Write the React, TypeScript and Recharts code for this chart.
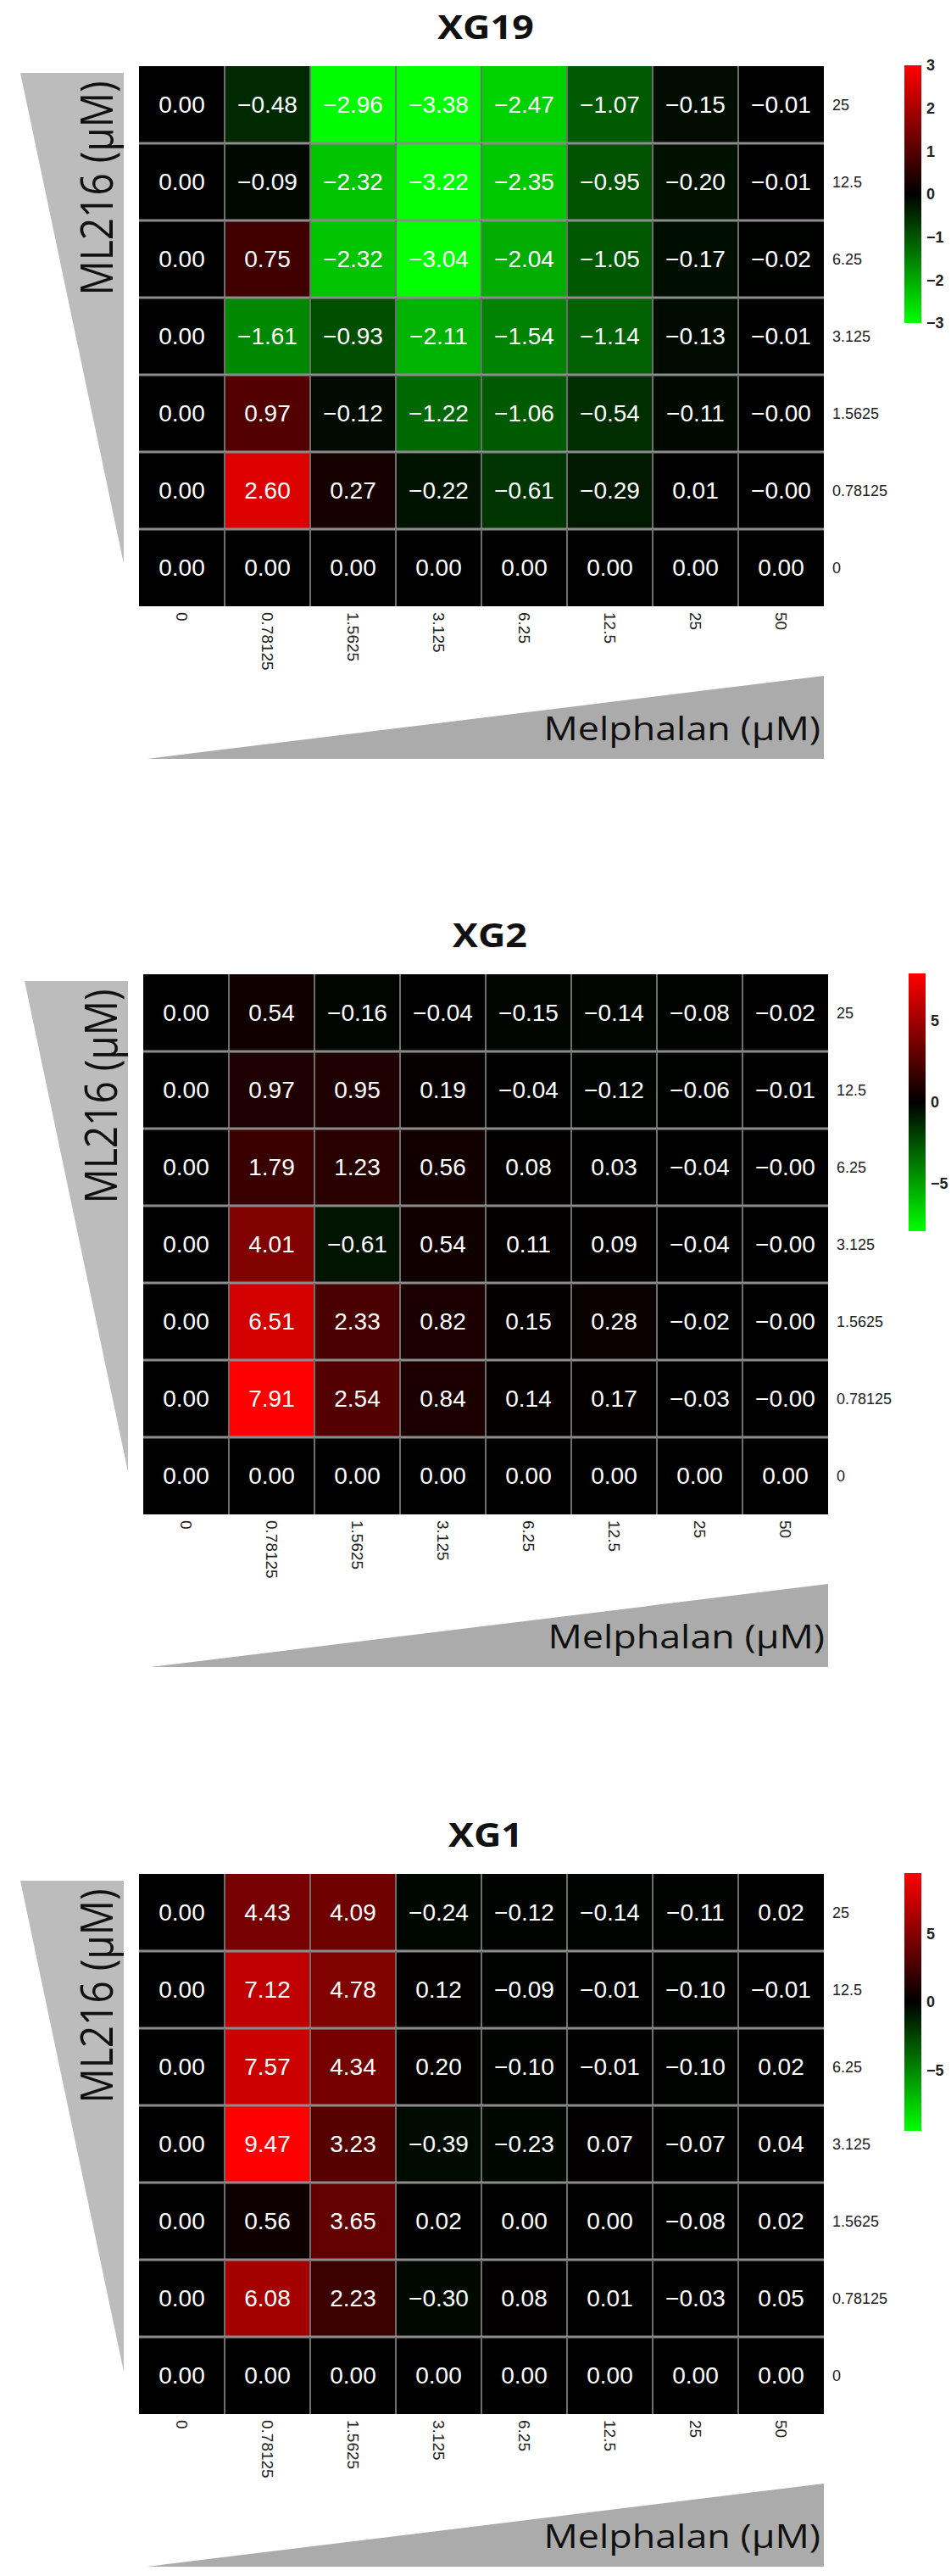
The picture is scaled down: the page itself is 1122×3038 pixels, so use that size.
import React from "react"
import { Bar, BarChart, Scatter, ScatterChart, XAxis, YAxis } from "recharts"

// column / row categories
const MELPHALAN = ["0", "0.78125", "1.5625", "3.125", "6.25", "12.5", "25", "50"]
const ML216 = ["25", "12.5", "6.25", "3.125", "1.5625", "0.78125", "0"]

// rows top -> bottom follow ML216, columns follow MELPHALAN
const XG19 = [
  [0, -0.48, -2.96, -3.38, -2.47, -1.07, -0.15, -0.01],
  [0, -0.09, -2.32, -3.22, -2.35, -0.95, -0.2, -0.01],
  [0, 0.75, -2.32, -3.04, -2.04, -1.05, -0.17, -0.02],
  [0, -1.61, -0.93, -2.11, -1.54, -1.14, -0.13, -0.01],
  [0, 0.97, -0.12, -1.22, -1.06, -0.54, -0.11, -0.001],
  [0, 2.6, 0.27, -0.22, -0.61, -0.29, 0.01, -0.001],
  [0, 0, 0, 0, 0, 0, 0, 0],
]
const XG2 = [
  [0, 0.54, -0.16, -0.04, -0.15, -0.14, -0.08, -0.02],
  [0, 0.97, 0.95, 0.19, -0.04, -0.12, -0.06, -0.01],
  [0, 1.79, 1.23, 0.56, 0.08, 0.03, -0.04, -0.001],
  [0, 4.01, -0.61, 0.54, 0.11, 0.09, -0.04, -0.001],
  [0, 6.51, 2.33, 0.82, 0.15, 0.28, -0.02, -0.001],
  [0, 7.91, 2.54, 0.84, 0.14, 0.17, -0.03, -0.001],
  [0, 0, 0, 0, 0, 0, 0, 0],
]
const XG1 = [
  [0, 4.43, 4.09, -0.24, -0.12, -0.14, -0.11, 0.02],
  [0, 7.12, 4.78, 0.12, -0.09, -0.01, -0.1, -0.01],
  [0, 7.57, 4.34, 0.2, -0.1, -0.01, -0.1, 0.02],
  [0, 9.47, 3.23, -0.39, -0.23, 0.07, -0.07, 0.04],
  [0, 0.56, 3.65, 0.02, 0, 0, -0.08, 0.02],
  [0, 6.08, 2.23, -0.3, 0.08, 0.01, -0.03, 0.05],
  [0, 0, 0, 0, 0, 0, 0, 0],
]

const TITLES = ["XG19", "XG2", "XG1"]
const COLOR_MAX = [3, 7.91, 9.47]
const XG19_TICKS = [3, 2, 1, 0, -1, -2, -3]
const XG_TICKS = [5, 0, -5]

// layout (px)
const GRID_X = 164
const GRID_Y = 78
const GRID_W = 808
const GRID_H = 637
const Y_AXIS_W = 100
const X_AXIS_H = 100
const CB_X = 1067
const CB_Y = 77
const CB_W = 20
const CB_H = 304
const CB_PAD = 14
const CELL_W = GRID_W / 8
const CELL_H = GRID_H / 7

const LABEL_FONT = "'Open Sans', 'Noto Sans', sans-serif"
const NUM_FONT = "'Liberation Sans', Arial, sans-serif"

function heat(v: number, max: number) {
  const c = Math.round(255 * Math.min(1, Math.abs(v) / max))
  return v >= 0 ? `rgb(${c},0,0)` : `rgb(0,${c},0)`
}

const fmt = (v: number) => v.toFixed(2).replace("-", "\u2212")

function MelTick(props: any) {
  const { x, y, payload } = props
  return (
    <text
      transform={`translate(${x},${y}) rotate(90)`}
      textAnchor="start"
      dominantBaseline="central"
      fontSize={19}
      fontFamily={NUM_FONT}
      fill="#222"
    >
      {MELPHALAN[Math.floor(payload.value)]}
    </text>
  )
}

function MlTick(props: any) {
  const { x, y, payload } = props
  return (
    <text x={x} y={y} textAnchor="start" dominantBaseline="central" fontSize={18} fontFamily={NUM_FONT} fill="#222">
      {ML216[Math.round(6.5 - payload.value)]}
    </text>
  )
}

// cell borders: right edge (thin, darker) and bottom edge (thicker, lighter)
function GridShape(p: any) {
  const { cx, cy, payload } = p
  const right = cx + CELL_W / 2
  const bottom = cy + CELL_H / 2
  return (
    <g>
      {payload.x < 7.5 && (
        <line x1={right} x2={right} y1={cy - CELL_H / 2} y2={bottom} stroke="#6e6e6e" strokeWidth={2} />
      )}
      {payload.y > 0.5 && (
        <line x1={cx - CELL_W / 2} x2={right} y1={bottom} y2={bottom} stroke="#8c8c8c" strokeWidth={3} />
      )}
    </g>
  )
}

function Panel({ idx, values, top, left, ticks }: { idx: number; values: number[][]; top: number; left: number; ticks: number[] }) {
  const max = COLOR_MAX[idx]
  const data = values.flatMap((row, r) => row.map((v, c) => ({ x: c + 0.5, y: 6.5 - r, v })))
  const cell = (p: any) => (
    <g>
      <rect x={p.cx - CELL_W / 2} y={p.cy - CELL_H / 2} width={CELL_W} height={CELL_H} fill={heat(p.payload.v, max)} />
      <text x={p.cx} y={p.cy} textAnchor="middle" dominantBaseline="central" fill="#fff" fontSize={28} fontFamily={NUM_FONT}>
        {fmt(p.payload.v)}
      </text>
    </g>
  )
  const gid = `cb-${idx}`
  return (
    <div style={{ position: "absolute", left, top, width: 1122, height: 1000 }}>
      <svg width={1122} height={1000} style={{ position: "absolute", left: 0, top: 0 }}>
        <text
          transform="translate(573,31) scale(1.15,1)"
          textAnchor="middle"
          dominantBaseline="central"
          fontSize={39}
          fontWeight={700}
          fontFamily={LABEL_FONT}
          fill="#111"
        >
          {TITLES[idx]}
        </text>
        <polygon points="24,86 146,86 146,665" fill="#bcbcbc" />
        <text
          transform="translate(113,222) rotate(-90) scale(1,1.15)"
          textAnchor="middle"
          dominantBaseline="central"
          fontSize={46}
          fontFamily={LABEL_FONT}
          fill="#111"
        >
          ML216 (μM)
        </text>
        <polygon points="173,895 972,797 972,895" fill="#ababab" />
        <text transform="translate(968,873) scale(1.15,1)" textAnchor="end" fontSize={39} fontFamily={LABEL_FONT} fill="#111">
          Melphalan (μM)
        </text>
      </svg>
      <div style={{ position: "absolute", left: GRID_X, top: GRID_Y }}>
        <ScatterChart width={GRID_W + Y_AXIS_W} height={GRID_H + X_AXIS_H} margin={{ top: 0, right: 0, bottom: 0, left: 0 }}>
          <XAxis
            dataKey="x"
            type="number"
            domain={[0, 8]}
            ticks={[0.5, 1.5, 2.5, 3.5, 4.5, 5.5, 6.5, 7.5]}
            interval={0}
            axisLine={false}
            tickLine={false}
            tickSize={0}
            tickMargin={7}
            height={X_AXIS_H}
            tick={<MelTick />}
          />
          <YAxis
            dataKey="y"
            type="number"
            domain={[0, 7]}
            orientation="right"
            ticks={[0.5, 1.5, 2.5, 3.5, 4.5, 5.5, 6.5]}
            interval={0}
            axisLine={false}
            tickLine={false}
            tickSize={0}
            tickMargin={10}
            width={Y_AXIS_W}
            tick={<MlTick />}
          />
          <Scatter data={data} shape={cell} isAnimationActive={false} />
          <Scatter data={data} shape={GridShape} isAnimationActive={false} />
        </ScatterChart>
      </div>
      <div style={{ position: "absolute", left: CB_X, top: CB_Y - CB_PAD }}>
        <BarChart
          width={CB_W + 40}
          height={CB_H + 2 * CB_PAD}
          data={[{ k: "cb", range: [-max, max] }]}
          margin={{ top: CB_PAD, right: 0, bottom: CB_PAD, left: 0 }}
          barCategoryGap={0}
        >
          <defs>
            <linearGradient id={gid} x1="0" y1="0" x2="0" y2="1">
              <stop offset="0%" stopColor="#ff0000" />
              <stop offset="50%" stopColor="#000000" />
              <stop offset="100%" stopColor="#00ff00" />
            </linearGradient>
          </defs>
          <XAxis dataKey="k" hide />
          <YAxis
            type="number"
            domain={[-max, max]}
            orientation="right"
            ticks={ticks}
            interval={0}
            axisLine={false}
            tickLine={false}
            tickSize={0}
            tickMargin={6}
            width={40}
            tickFormatter={(v) => String(v).replace("-", "\u2212")}
            tick={{ fontSize: 18, fontWeight: 700, fill: "#222", fontFamily: NUM_FONT }}
          />
          <Bar dataKey="range" fill={`url(#${gid})`} isAnimationActive={false} />
        </BarChart>
      </div>
    </div>
  )
}

const PANEL_TOP = [0, 1071, 2132]
const PANEL_LEFT = [0, 5, 0]

export default function App() {
  return (
    <div style={{ position: "absolute", left: 0, top: 0, width: 1122, height: 3038, background: "#fff", overflow: "hidden" }}>
      <Panel idx={0} values={XG19} top={PANEL_TOP[0]} left={PANEL_LEFT[0]} ticks={XG19_TICKS} />
      <Panel idx={1} values={XG2} top={PANEL_TOP[1]} left={PANEL_LEFT[1]} ticks={XG_TICKS} />
      <Panel idx={2} values={XG1} top={PANEL_TOP[2]} left={PANEL_LEFT[2]} ticks={XG_TICKS} />
    </div>
  )
}
